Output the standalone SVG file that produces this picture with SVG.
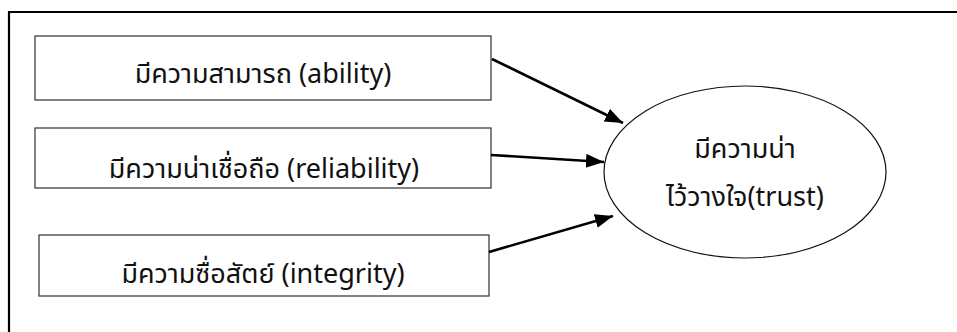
<svg xmlns="http://www.w3.org/2000/svg" width="957" height="332" viewBox="0 0 957 332">
<style>
.box{fill:#fff;stroke:#404040;stroke-width:1.3}
.ell{fill:#fff;stroke:#111;stroke-width:1.2}
.t{font-family:"Noto Sans Thai","Noto Sans","DejaVu Sans",sans-serif;font-size:27px;fill:#111;text-anchor:middle}
.c{stroke:#000;stroke-width:2.6;fill:none;marker-end:url(#ah)}
.frame{stroke:#000;stroke-width:2.2;fill:none}
</style>
<defs>
<marker id="ah" markerUnits="userSpaceOnUse" markerWidth="20" markerHeight="16" refX="18" refY="7" orient="auto">
<path d="M0,0 L18,7 L0,14 Z" fill="#000"/>
</marker>
</defs>
<path class="frame" d="M9,333 V12 H958"/>
<g id="n1"><rect class="box" x="35" y="36" width="456" height="64"/><text class="t" x="263" y="83">มีความสามารถ (ability)</text></g>
<g id="n2"><rect class="box" x="35" y="128" width="456" height="60"/><text class="t" x="264" y="178">มีความน่าเชื่อถือ (reliability)</text></g>
<g id="n3"><rect class="box" x="39" y="235" width="450" height="61"/><text class="t" x="263" y="283">มีความซื่อสัตย์ (integrity)</text></g>
<g id="n4"><ellipse class="ell" cx="745" cy="172" rx="141" ry="86"/><text class="t" x="745" y="158">มีความน่า</text><text class="t" x="745" y="206">ไว้วางใจ(trust)</text></g>
<g id="connectors">
<line class="c" x1="492" y1="59" x2="623" y2="123"/>
<line class="c" x1="491" y1="155" x2="604" y2="162"/>
<line class="c" x1="489" y1="252" x2="613" y2="216"/>
</g>
</svg>
